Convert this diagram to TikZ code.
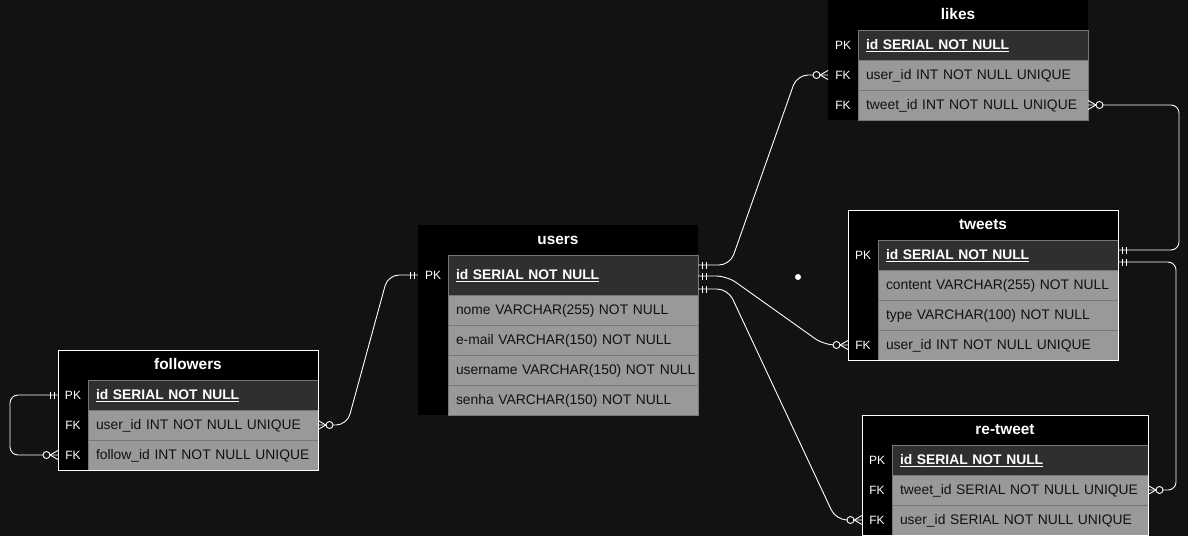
\documentclass[tikz,border=0pt]{standalone}
\usepackage{fontspec}
\setmainfont{Liberation Sans}
\usetikzlibrary{positioning,decorations.markings}

\definecolor{bg}{HTML}{121212}
\definecolor{pkgray}{HTML}{2F2F2F}
\definecolor{rowgray}{HTML}{999999}
\definecolor{rowline}{HTML}{777777}
\definecolor{rowtext}{HTML}{111111}

\newcommand{\hdrfont}{\fontsize{15.4}{18}\selectfont\bfseries}
\newcommand{\keyfont}{\fontsize{12}{14}\selectfont}
\newcommand{\fldfont}{\fontsize{13.86}{16}\selectfont}
\newcommand{\erbars}[1]{\draw[white, line width=0.9pt, xscale=#1]
    (4pt,-3.5pt) -- (4pt,3.5pt) (8pt,-3.5pt) -- (8pt,3.5pt);}
\newcommand{\erfork}[1]{\draw[white, line width=0.9pt, xscale=#1]
    (8pt,0pt) -- (0pt,4.5pt) (8pt,0pt) -- (0pt,-4.5pt);
    \draw[white, fill=bg, line width=0.9pt, xscale=#1] (11.5pt,0pt) circle (3.5pt);}

\tikzset{
    hdr/.style={fill=black, text=white, font=\hdrfont, minimum width=#1,
        text height=8.2pt, text depth=0pt,
        minimum height=30pt, inner sep=0pt, outer sep=0pt, anchor=north west},
    keycell/.style={fill=black, text=white, font=\keyfont, minimum width=30pt,
        text height=8.6pt, text depth=0pt,
        minimum height=30pt, inner sep=0pt, outer sep=0pt, anchor=north west},
    fld/.style={fill=rowgray, draw=rowline, text=rowtext, font=\fldfont,
        text width=#1, align=left, inner xsep=8pt, inner ysep=0pt,
        text height=9.9pt, text depth=0pt,
        minimum height=30pt, outer sep=0pt},
    pkfld/.style={fld=#1, fill=pkgray, text=white, font=\fldfont\bfseries},
    frame/.style={draw=white, line width=1pt},
    onestart/.style={postaction={decorate, decoration={markings,
        mark=at position 0 with {\erbars{1}}}}},
    oneend/.style={postaction={decorate, decoration={markings,
        mark=at position 1 with {\erbars{-1}}}}},
    manystart/.style={postaction={decorate, decoration={markings,
        mark=at position 0 with {\erfork{1}}}}},
    manyend/.style={postaction={decorate, decoration={markings,
        mark=at position 1 with {\erfork{-1}}}}},
}

\begin{document}
\begin{tikzpicture}[x=1pt, y=-1pt,
        link/.style={draw=white, line width=0.9pt, rounded corners=11pt}]
        \fill[bg] (0,0) rectangle (1188,536);
        \useasboundingbox (0,0) rectangle (1188,536);

        % likes
        \node[hdr=260pt] (likes) at (828,0) {likes};
        \node[keycell] (likes-k1) at (828,30) {PK};
        \node[pkfld=214pt, right=0pt of likes-k1] (likes-f1) {\underline{id SERIAL NOT NULL}};
        \foreach \F [count=\i from 2] in {user\_id INT NOT NULL UNIQUE,
                tweet\_id INT NOT NULL UNIQUE} {
            \node[keycell] (likes-k\i) at (828,30*\i) {FK};
            \node[fld=214pt, right=0pt of likes-k\i] (likes-f\i) {\mbox{\F}};
        }

        % users
        \node[hdr=280pt] (users) at (418,225) {users};
        \node[keycell, minimum height=40pt] (users-k1) at (418,255) {PK};
        \node[pkfld=234pt, minimum height=40pt, right=0pt of users-k1] (users-f1)
            {\underline{id SERIAL NOT NULL}};
        \foreach \F [count=\i from 2] in {nome VARCHAR(255) NOT NULL,
                e-mail VARCHAR(150) NOT NULL, username VARCHAR(150) NOT NULL,
                senha VARCHAR(150) NOT NULL} {
            \node[keycell] (users-k\i) at (418,235+30*\i) {};
            \node[fld=234pt, right=0pt of users-k\i] (users-f\i) {\mbox{\F}};
        }

        % tweets
        \node[hdr=270pt] (tweets) at (848,210) {tweets};
        \node[keycell] (tweets-k1) at (848,240) {PK};
        \node[pkfld=224pt, right=0pt of tweets-k1] (tweets-f1) {\underline{id SERIAL NOT NULL}};
        \foreach \K/\F [count=\i from 2] in {/content VARCHAR(255) NOT NULL,
                /type VARCHAR(100) NOT NULL, FK/user\_id INT NOT NULL UNIQUE} {
            \node[keycell] (tweets-k\i) at (848,210+30*\i) {\K};
            \node[fld=224pt, right=0pt of tweets-k\i] (tweets-f\i) {\mbox{\F}};
        }
        \draw[frame] (tweets.north west) rectangle (tweets-f4.south east);

        % re-tweet
        \node[hdr=286pt] (retweet) at (862,415) {re-tweet};
        \node[keycell] (retweet-k1) at (862,445) {PK};
        \node[pkfld=240pt, right=0pt of retweet-k1] (retweet-f1) {\underline{id SERIAL NOT NULL}};
        \foreach \F [count=\i from 2] in {tweet\_id SERIAL NOT NULL UNIQUE,
                user\_id SERIAL NOT NULL UNIQUE} {
            \node[keycell] (retweet-k\i) at (862,415+30*\i) {FK};
            \node[fld=240pt, right=0pt of retweet-k\i] (retweet-f\i) {\mbox{\F}};
        }
        \draw[frame] (retweet.north west) rectangle (retweet-f3.south east);

        % followers
        \node[hdr=260pt] (followers) at (58,350) {followers};
        \node[keycell] (followers-k1) at (58,380) {PK};
        \node[pkfld=214pt, right=0pt of followers-k1] (followers-f1) {\underline{id SERIAL NOT NULL}};
        \foreach \F [count=\i from 2] in {user\_id INT NOT NULL UNIQUE,
                follow\_id INT NOT NULL UNIQUE} {
            \node[keycell] (followers-k\i) at (58,350+30*\i) {FK};
            \node[fld=214pt, right=0pt of followers-k\i] (followers-f\i) {\mbox{\F}};
        }
        \draw[frame] (followers.north west) rectangle (followers-f3.south east);

        % users -> likes, tweets, re-tweet
        \draw[link, onestart, manyend] ([yshift=10pt]users-f1.east) -- ++(32,0)
            -- ([xshift=-31pt]likes-k2.west) -- (likes-k2.west);
        \draw[link, onestart, manyend] ([yshift=-1pt]users-f1.east) -- ++(29,0)
            -- ([xshift=-24pt]tweets-k4.west) -- (tweets-k4.west);
        \draw[link, onestart, manyend] ([yshift=-14pt]users-f1.east) -- ++(30,0)
            -- ([xshift=-26pt]retweet-k3.west) -- (retweet-k3.west);

        % followers -> users
        \draw[link, manystart, oneend] (followers-f2.east) -- ++(29,0)
            -- ([xshift=-30pt]users-k1.west) -- (users-k1.west);
        \draw[link, rounded corners=8pt, onestart, manyend] (followers-k1.west)
            -- ++(-48,0) |- (followers-k3.west);

        % tweets links
        \draw[link, rounded corners=8pt, manystart, oneend] (likes-f3.east)
            -- ++(91,0) |- ([yshift=5pt]tweets-f1.east);
        \draw[link, rounded corners=8pt, onestart, manyend] ([yshift=-7pt]tweets-f1.east)
            -- ++(58,0) |- (retweet-f2.east);

        \fill[white] (798,277) circle (3pt);
\end{tikzpicture}
\end{document}
